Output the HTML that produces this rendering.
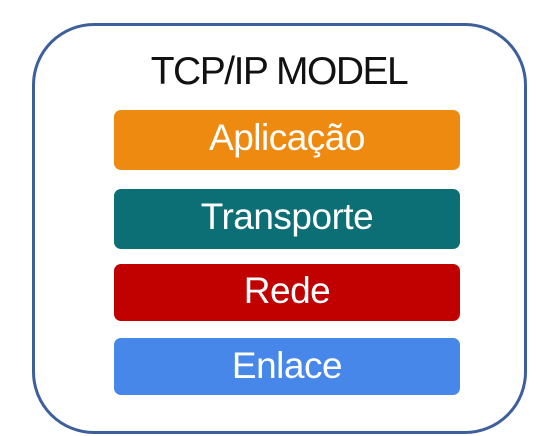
<!DOCTYPE html>
<html><head><style>
html,body{margin:0;padding:0;background:#fff;}
body{width:538px;height:436px;position:relative;overflow:hidden;font-family:"Liberation Sans",Arial,sans-serif;}
.outer{position:absolute;left:32px;top:23px;width:489px;height:405px;border:3px solid #3d5f9b;border-radius:62px;}
.title{position:absolute;left:10px;width:538px;top:50px;text-align:center;font-size:39px;color:#111;letter-spacing:-1.5px;line-height:44px;}
.b{position:absolute;left:114px;width:346px;border-radius:7px;color:#fff;text-align:center;font-size:37px;letter-spacing:-0.5px;}
</style></head><body>
<div class="outer"></div>
<div class="title">TCP/IP MODEL</div>
<div class="b" style="top:110px;height:60px;line-height:56px;background:#ef8a10;">Aplicação</div>
<div class="b" style="top:189px;height:60px;line-height:56px;background:#0b6f75;">Transporte</div>
<div class="b" style="top:264px;height:57px;line-height:53px;background:#c10000;">Rede</div>
<div class="b" style="top:338px;height:57px;line-height:55px;background:#4787ea;">Enlace</div>
</body></html>
